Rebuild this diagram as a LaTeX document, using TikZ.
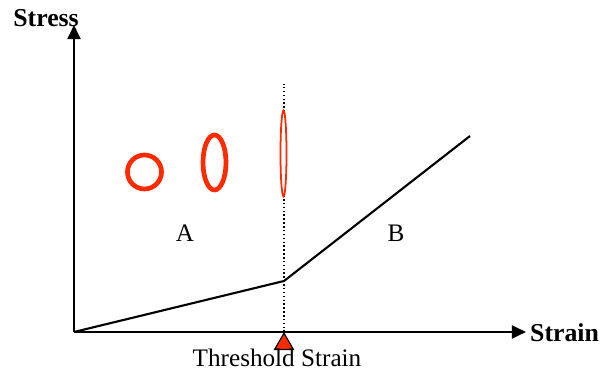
\documentclass[tikz,border=0pt]{standalone}
\usepackage{fontspec}
\setmainfont{Liberation Serif}
\usetikzlibrary{arrows.meta,positioning,shapes.geometric}
\definecolor{strainred}{HTML}{FF2A00}

\begin{document}
\begin{tikzpicture}[x=0.3mm, y=0.3mm,
  axis/.style={line width=2.1pt, -{Triangle[length=12pt, width=11pt]}},
  curve/.style={line width=1.8pt, line join=round},
  lbl/.style={font=\fontsize{21.5}{24}\selectfont, inner sep=0pt},
  axlbl/.style={font=\fontsize{22}{24}\selectfont\bfseries, inner sep=0pt},
  cell/.style={draw=strainred, line width=4pt},
  marker/.style={draw=black, fill=strainred, line width=1pt, isosceles triangle,
                 isosceles triangle apex angle=60, shape border rotate=90,
                 minimum height=14pt, inner sep=0pt}
]
  \useasboundingbox (0,0) rectangle (608,373);
  % axes
  \coordinate (origin) at (74,41);
  \coordinate (ytop) at (74,348);
  \coordinate (xend) at (526,41);
  \draw[axis] (origin) -- (ytop);
  \draw[axis] (origin) -- (xend);
  \node[axlbl, anchor=base east] (stress) at (79,346) {Stress};
  \node[axlbl, anchor=west] (strain) at (530,40) {Strain};

  % threshold
  \coordinate (thr) at (284,41);
  \coordinate (thrtop) at (284,289);
  \draw[line width=1.3pt, dotted] (thr) -- (thrtop);

  % cells
  \draw[cell] (144.5,201) circle (17);
  \draw[cell] (214.5,210.5) ellipse (11.5 and 27.5);
  \draw[draw=strainred, fill=white, line width=1.5pt] (283.5,219.5) ellipse (3 and 43);

  % stress-strain curve
  \coordinate (knee) at (284,92);
  \coordinate (tip) at (470,237);
  \draw[curve] (origin) -- (knee) -- (tip);

  \node[lbl] (regA) at (185,139.5) {A};
  \node[lbl] (regB) at (396,139.5) {B};

  \node[marker, anchor=apex] (mark) at (thr) {};
  \node[lbl, anchor=base] (thrlbl) at (277,6) {Threshold Strain};
\end{tikzpicture}
\end{document}
